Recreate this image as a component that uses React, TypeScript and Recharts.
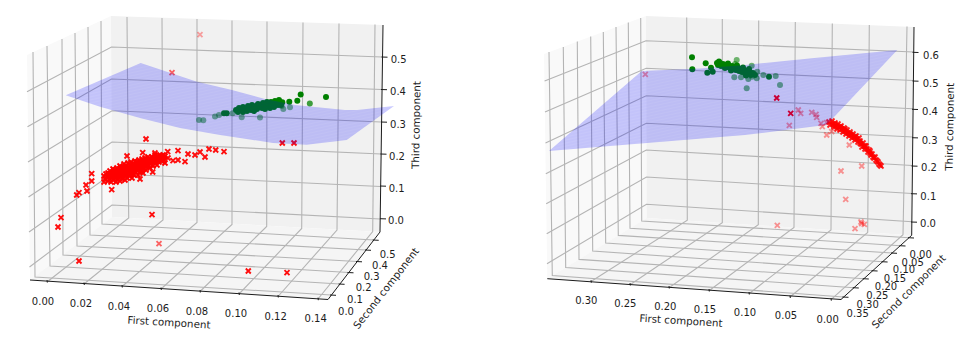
import React from "react"
import { ScatterChart, Scatter, XAxis, YAxis } from "recharts"

type P = [number, number]
type Lab = [string, number, number]

const leftPanes = {
  side: [[27, 55], [111, 16], [112, 217], [30, 280]] as P[],
  back: [[111, 16], [383, 25], [380, 232], [112, 217]] as P[],
  floor: [[30, 280], [112, 217], [380, 232], [328, 299.5]] as P[],
}
const rightPanes = {
  side: [[544, 54], [646, 16], [646.7, 218], [547.3, 278.7]] as P[],
  back: [[646, 16], [914, 27], [911.7, 235.3], [646.7, 218]] as P[],
  floor: [[547.3, 278.7], [646.7, 218], [911.7, 235.3], [841, 299.5]] as P[],
}

const leftFirstGrid: P[][] = [
  [[47, 282], [128.7, 218], [127, 17]],
  [[84, 284], [163, 220], [162, 18]],
  [[122, 286.5], [197, 222.5], [197, 19]],
  [[161, 289], [232, 224.5], [232, 20.5]],
  [[200, 291.5], [266.7, 226.5], [267, 21.5]],
  [[239, 294], [301.7, 228.5], [303, 22.5]],
  [[278, 296.5], [337, 230], [339, 23.5]],
  [[318, 299], [372.7, 231.5], [375, 24.5]],
]
const leftSecondGrid: P[][] = [
  [[331, 295], [35, 277], [33, 52]],
  [[339.6, 284], [50, 266], [47, 46]],
  [[348.5, 272.5], [63, 255], [62, 39]],
  [[357, 261.5], [77, 246], [75, 33]],
  [[366, 250], [90, 235], [88, 27]],
  [[373.7, 240], [102, 224], [101, 21]],
]
const leftThirdGrid: P[][] = [
  [[29.5, 267], [112, 205], [380, 219]],
  [[29, 232], [112, 173.7], [380.5, 186.5]],
  [[28.5, 197], [112, 142], [381, 154]],
  [[28, 162], [112, 110.7], [381, 122]],
  [[27.5, 126.7], [111.5, 79], [381.5, 89.5]],
  [[27, 91.7], [111.5, 47], [382, 57]],
]
const rightFirstGrid: P[][] = [
  [[591, 281.5], [687.3, 220.3], [686.7, 17.4]],
  [[630, 284.7], [722.3, 222.7], [722.3, 18.9]],
  [[669, 287.7], [758.3, 224.7], [758.7, 20.4]],
  [[709, 290.7], [794, 227.5], [795.3, 22]],
  [[749, 293.7], [831, 230], [832.3, 23.5]],
  [[790, 297], [867.7, 232.5], [869.3, 25]],
  [[831, 299.7], [903, 234.7], [907, 26.6]],
]
const rightSecondGrid: P[][] = [
  [[843.5, 297], [552.3, 275.6], [549, 52]],
  [[853.8, 287.7], [565.7, 267.5], [563.3, 47]],
  [[863.8, 278.7], [579, 259.4], [577.3, 41.6]],
  [[872.6, 270.7], [592.7, 251], [590.7, 36.6]],
  [[882.6, 261.7], [605.7, 243], [603.3, 32]],
  [[892, 253], [618.3, 235.4], [616, 27]],
  [[900.5, 245.7], [630, 228.3], [628.3, 22.6]],
  [[909, 237.7], [641.7, 221], [640.7, 18]],
]
const rightThirdGrid: P[][] = [
  [[547, 263.7], [646.5, 204.3], [912, 221.7]],
  [[546.7, 233.7], [646.5, 177], [912, 193.5]],
  [[546.2, 203.7], [646.3, 150], [912.3, 165.5]],
  [[545.8, 173.7], [646.3, 123.3], [912.8, 137]],
  [[545.5, 143], [646.2, 95.7], [913, 108.7]],
  [[545, 112], [646.2, 68.3], [913.3, 80.5]],
  [[544.6, 81], [646, 40.7], [913.7, 52]],
]

const leftAxes: P[][] = [
  [[30, 280], [328, 299.5], [380, 232]],
  [[380, 232], [383, 25]],
]
const rightAxes: P[][] = [
  [[547.3, 278.7], [841, 299.5], [911.7, 235.3]],
  [[911.7, 235.3], [914, 27]],
]

const leftFirstTickAt: P[] = [[47, 281], [84, 283.5], [122, 286], [161, 288.5], [200, 291], [239, 293.5], [278, 296], [318, 298.7]]
const leftSecondTickAt: P[] = [[331, 295], [339.6, 284], [348.5, 272.5], [357, 261.5], [366, 250], [373.7, 240]]
const leftThirdTickAt: P[] = [[381, 218.7], [381, 186], [381.5, 154], [382, 122], [382, 89.5], [382.5, 57]]
const rightFirstTickAt: P[] = [[591, 281.2], [630, 284], [669, 287], [709, 290], [749, 293], [790, 296.5], [831, 299.2]]
const rightSecondTickAt: P[] = [[843.5, 297], [853.8, 287.7], [863.8, 278.7], [872.6, 270.7], [882.6, 261.7], [892, 253], [900.5, 245.7], [909, 237.7]]
const rightThirdTickAt: P[] = [[912, 222], [912, 193.7], [912.5, 166], [913, 137.7], [913, 109.3], [913.5, 81], [913.5, 52.3]]

const tickLabels: Lab[] = [
  ["0.00", 43, 301], ["0.02", 81, 303.7], ["0.04", 119, 306], ["0.06", 158, 308.5],
  ["0.08", 197, 311], ["0.10", 236, 313.5], ["0.12", 275.7, 316], ["0.14", 315.7, 318],
  ["0.0", 346, 311], ["0.1", 355, 299], ["0.2", 363.7, 287], ["0.3", 371.7, 276], ["0.4", 380, 265], ["0.5", 387.7, 254.7],
  ["0.5", 398.7, 59.7], ["0.4", 398, 91.7], ["0.3", 398, 124], ["0.2", 397, 156], ["0.1", 396.7, 188.7], ["0.0", 396, 220.7],
  ["0.30", 586.3, 300.3], ["0.25", 625.3, 303.3], ["0.20", 665.3, 306.3], ["0.15", 705, 309.3],
  ["0.10", 745, 312.7], ["0.05", 786, 315.7], ["0.00", 827.7, 319],
  ["0.00", 920.7, 254.7], ["0.05", 912.7, 262], ["0.10", 904, 269.7], ["0.15", 895, 278],
  ["0.20", 886, 286.3], ["0.25", 877.3, 295.3], ["0.30", 867.7, 304.7], ["0.35", 857.7, 313.7],
  ["0.6", 931, 55], ["0.5", 930.7, 83.3], ["0.4", 930, 111.7], ["0.3", 929.7, 140], ["0.2", 929, 167.7], ["0.1", 928.3, 196], ["0.0", 928, 223.7],
]
const axisTitles: [string, number, number, number][] = [
  ["First component", 169, 322, 3.6],
  ["Second component", 385.7, 288, -52],
  ["Third component", 415.7, 125, -89],
  ["First component", 681, 320.3, 3.6],
  ["Second component", 908.3, 291.3, -45],
  ["Third component", 949.3, 126.7, -89],
]

const leftPlane: P[] = [
  [65.7, 95.3], [140.7, 63], [197, 81.7], [232, 90], [265, 99], [295, 105], [345, 110], [357, 110], [394, 106],
  [346.7, 140], [306.7, 144.7], [273, 143], [240, 138], [220, 135], [180, 128], [140, 118], [100, 106.7],
]
const rightPlane: P[] = [
  [549, 151], [641.7, 71], [700, 68.5], [745, 65], [811.7, 58.3], [897.3, 50],
  [835, 116], [826, 125], [780, 130.7], [745, 135],
]

const leftRedCluster: P[] = [
  [104, 176], [105, 179], [106, 174], [107, 177], [108, 181], [108, 173], [109, 176], [110, 179], [110, 171], [111, 174],
  [111, 182], [112, 177], [113, 169], [113, 172], [113, 180], [114, 175], [115, 178], [115, 170], [116, 173], [116, 182],
  [117, 168], [117, 176], [118, 179], [118, 171], [119, 174], [120, 166], [120, 169], [120, 177], [120, 181], [121, 172],
  [122, 175], [122, 179], [123, 167], [123, 170], [124, 173], [124, 164], [125, 176], [125, 180], [126, 169], [126, 166],
  [127, 172], [127, 178], [128, 163], [128, 174], [129, 168], [129, 171], [130, 176], [130, 165], [131, 162], [131, 173],
  [132, 169], [132, 178], [133, 166], [133, 171], [134, 164], [134, 175], [135, 161], [135, 168], [136, 172], [136, 165],
  [137, 170], [137, 162], [138, 167], [138, 175], [139, 160], [139, 164], [140, 169], [140, 172], [141, 162], [141, 166],
  [142, 159], [142, 171], [143, 164], [143, 168], [144, 161], [145, 166], [145, 158], [146, 163], [146, 170], [147, 160],
  [148, 165], [148, 157], [149, 162], [150, 159], [150, 168], [151, 164], [152, 157], [152, 161], [153, 166], [154, 158],
  [155, 162], [155, 155], [156, 160], [157, 156], [157, 165], [158, 158], [159, 162], [160, 155], [160, 159], [161, 157],
  [162, 161], [163, 155], [163, 158], [164, 160], [165, 156], [165, 163],
  [112, 174], [118, 175], [124, 170], [128, 171], [133, 168], [138, 164], [143, 161], [147, 163], [151, 161], [156, 158], [161, 160],
  [109, 174], [111, 177], [114, 172], [116, 176], [117, 179], [119, 172], [121, 175], [122, 169], [123, 178], [125, 168],
  [126, 174], [127, 169], [129, 175], [130, 168], [131, 171], [133, 174], [134, 168], [135, 165], [136, 169], [137, 166],
  [139, 168], [140, 163], [141, 169], [142, 164], [144, 165], [145, 162], [147, 166], [149, 159], [150, 163], [153, 160],
  [155, 158], [158, 161], [162, 157],
]
const leftRedOutliers: P[] = [
  [146, 139], [167.7, 151.7], [178, 150.7], [188, 154], [200, 152], [209, 149], [215.7, 150], [224, 151.7], [205, 157],
  [195, 155], [185, 161.7], [178, 160], [173, 160.7], [168, 158], [155, 153], [142.7, 152.7], [127, 156],
  [91.7, 173.7], [91.7, 181], [86, 185], [87, 191], [79, 192.7], [76.7, 195], [61, 217.7], [58, 227], [79, 261],
  [152, 214.7], [111.7, 189.7], [104, 182], [140, 179], [152.7, 172], [143, 173], [248.3, 271], [287, 272.7],
  [282.3, 143], [294, 143],
]
const leftRedFaded: P[] = [[172, 72.7], [159, 243.7]]
const leftRedFaint: P[] = [[200, 34.7]]

const leftGreenCluster: P[] = [
  [224, 113.3], [226.7, 113.3], [236, 110], [238, 112], [239, 108], [241, 110], [243, 112], [243, 107], [245, 109], [247, 111],
  [248, 106], [249, 108], [251, 110], [252, 105], [253, 108], [254, 111], [256, 106], [257, 109], [258, 104], [259, 107],
  [261, 105], [262, 108], [263, 103], [264, 106], [265, 109], [266, 104], [267, 102], [268, 106], [269, 104], [270, 108],
  [271, 102], [272, 105], [273, 103], [274, 107], [275, 101], [276, 104], [277, 102], [278, 105], [279, 100], [280, 103],
  [281, 105], [282.3, 102.3], [289.3, 101.7], [297.3, 100.7], [300.7, 94.5], [326, 97],
]
const leftGreenFaded: P[] = [
  [199, 120], [203.3, 120.3], [215, 116.5], [219, 115], [232.7, 113.3], [241.7, 117.3], [260, 117.5], [283.3, 109], [290, 107.2], [281.7, 106],
]
const leftGreenMid: P[] = [[309.8, 103.5]]

const rightGreenCluster: P[] = [
  [692, 57.3], [692.3, 69.3], [705.7, 63.3], [711, 67.7], [707.3, 72.7], [712.7, 71.7], [717, 63], [718, 65], [720, 63], [721, 66],
  [723, 64], [724, 66], [726, 65], [727, 67], [729, 66], [730, 68], [732, 66], [733, 69], [735, 67], [736, 70],
  [738, 68], [739, 71], [741, 69], [742, 72], [744, 70], [745, 73], [747, 71], [748, 74], [750, 72], [751, 75], [753, 73], [769, 76.7],
  [719, 61.5], [725, 68], [731, 70.5], [737, 65.5], [743, 67.5], [746, 75.5], [749, 69], [755, 75], [728, 63.5],
]
const rightGreenFaded: P[] = [
  [736.7, 60], [735, 64], [751.7, 65.7], [746.7, 88.3], [780, 85], [775.7, 76], [763.3, 75], [757.3, 71.7], [756.7, 78.3], [752, 76.7], [748.3, 79], [741, 77.3], [734.3, 77.3],
]

const rightRedBand: P[] = [
  [829, 122], [830, 125], [832, 121], [833, 124], [834, 127], [835, 123], [836, 126], [837, 129], [838, 124], [839, 127],
  [840, 130], [841, 126], [842, 129], [843, 132], [844, 128], [845, 131], [846, 134], [847, 130], [848, 133], [849, 136],
  [850, 132], [851, 135], [852, 138], [853, 134], [854, 137], [855, 140], [856, 136], [857, 139], [858, 142], [859, 138],
  [860, 141], [861, 144], [862, 147], [863, 143], [864, 146], [865, 149], [866, 146], [867, 149], [868, 152], [869, 150],
  [870, 153], [871, 155], [872, 154], [873, 157], [874, 158], [875, 157], [876, 160], [877, 161], [878, 162], [879, 164], [880, 165], [881, 166],
  [835, 125], [840, 127], [845, 129], [850, 134], [855, 137], [860, 143], [865, 146], [870, 151],
]
const rightRedSolid: P[] = [[776.7, 98], [790.7, 113.3]]
const rightRedFaded: P[] = [
  [789.3, 125.3], [798.3, 110], [800.7, 113.3], [811.7, 112.3], [816, 114.3], [816.7, 117.3], [821, 123.3], [822.3, 126.7],
  [826.7, 135], [826.7, 122.7], [831.7, 131.7], [849.3, 145], [861.7, 166], [841, 171], [845.7, 199.3], [777.3, 225.3],
  [861, 222], [864.3, 224.3], [855, 228.7], [861.7, 223.7], [645.3, 74.3],
]

const toRows = (pts: P[]) => pts.map(([x, y]) => ({ x, y }))
const noDot = () => <g />

const crossMark = (color: string, opacity: number) => ({ cx, cy }: any) => (
  <path
    d={`M${cx - 2.5} ${cy - 2.5}L${cx + 2.5} ${cy + 2.5}M${cx - 2.5} ${cy + 2.5}L${cx + 2.5} ${cy - 2.5}`}
    stroke={color}
    strokeOpacity={opacity}
    strokeWidth={1.9}
    fill="none"
  />
)
const dotMark = (color: string, opacity: number) => ({ cx, cy }: any) => (
  <circle cx={cx} cy={cy} r={3} fill={color} fillOpacity={opacity} />
)
// draws the outline relative to its first vertex, the axes run at one unit per pixel
const polygonMark = (verts: P[], fill: string) => ({ cx, cy }: any) => (
  <polygon
    points={verts.map(([x, y]) => `${cx + x - verts[0][0]},${cy + y - verts[0][1]}`).join(" ")}
    fill={fill}
  />
)

const polygon = (verts: P[], fill: string, key: string) => (
  <Scatter key={key} data={toRows(verts.slice(0, 1))} shape={polygonMark(verts, fill)} isAnimationActive={false} />
)
const polyline = (pts: P[], stroke: string, width: number, key: string) => (
  <Scatter
    key={key}
    data={toRows(pts)}
    line={{ stroke, strokeWidth: width }}
    shape={noDot}
    isAnimationActive={false}
  />
)
const marks = (pts: P[], shape: any, key: string) => (
  <Scatter key={key} data={toRows(pts)} shape={shape} isAnimationActive={false} />
)

const GRID = "#b4b4b4"
const INK = "#1c1c1c"
const grids = [leftFirstGrid, leftSecondGrid, leftThirdGrid, rightFirstGrid, rightSecondGrid, rightThirdGrid].flat()

const labelShape = (fontSize: number) => ({ cx, cy, payload }: any) => (
  <text
    x={cx}
    y={cy}
    fontFamily="DejaVu Sans"
    fontSize={fontSize}
    fill={INK}
    textAnchor="middle"
    dominantBaseline="central"
    transform={payload.angle ? `rotate(${payload.angle} ${cx} ${cy})` : undefined}
  >
    {payload.text}
  </text>
)

export default function App() {
  return (
    <div style={{ position: "absolute", left: 0, top: 0 }}>
      <ScatterChart width={970} height={345} margin={{ top: 0, right: 0, bottom: 0, left: 0 }}>
        <defs>
          <pattern id="mesh" width="5" height="3" patternUnits="userSpaceOnUse" patternTransform="rotate(-12)">
            <rect width="5" height="3" fill="#0000ff" fillOpacity={0.2} />
            <line x1="0" y1="1" x2="5" y2="1" stroke="#0000ff" strokeOpacity={0.04} strokeWidth={1} />
          </pattern>
        </defs>
        <XAxis type="number" dataKey="x" domain={[0, 970]} hide />
        <YAxis type="number" dataKey="y" domain={[0, 345]} reversed hide />

        {polygon(leftPanes.side, "#f9f9f9", "ls")}
        {polygon(leftPanes.back, "#f1f1f1", "lb")}
        {polygon(leftPanes.floor, "#f5f5f5", "lf")}
        {polygon(rightPanes.side, "#f9f9f9", "rs")}
        {polygon(rightPanes.back, "#f1f1f1", "rb")}
        {polygon(rightPanes.floor, "#f5f5f5", "rf")}

        {grids.map((g, i) => polyline(g, GRID, 1.1, `grid-${i}`))}
        {[...leftAxes, ...rightAxes].map((a, i) => polyline(a, INK, 1, `axis-${i}`))}
        {[...leftFirstTickAt, ...rightFirstTickAt].map(([x, y], i) =>
          polyline([[x, y - 1], [x + 0.3, y + 1.5]], INK, 1, `xt-${i}`))}
        {[...leftSecondTickAt, ...rightSecondTickAt].map(([x, y], i) =>
          polyline([[x - 1, y], [x + 5, y + 0.3]], INK, 1, `yt-${i}`))}
        {[...leftThirdTickAt, ...rightThirdTickAt].map(([x, y], i) =>
          polyline([[x - 1, y], [x + 5, y + 0.2]], INK, 1, `zt-${i}`))}

        {marks(leftGreenFaded, dotMark("#008000", 0.5), "lgf")}
        {marks(leftGreenMid, dotMark("#008000", 0.75), "lgm")}
        {marks(leftGreenCluster, dotMark("#008000", 1), "lgc")}
        {marks(rightGreenFaded, dotMark("#008000", 0.55), "rgf")}
        {marks(rightGreenCluster, dotMark("#008000", 1), "rgc")}
        {marks(leftRedCluster, crossMark("#ff0000", 1), "lrc")}
        {marks(leftRedOutliers, crossMark("#ff0000", 0.95), "lro")}
        {marks(leftRedFaded, crossMark("#ff0000", 0.6), "lrf")}
        {marks(leftRedFaint, crossMark("#ff0000", 0.35), "lrt")}
        {marks(rightRedFaded, crossMark("#ff0000", 0.4), "rrf")}
        {marks(rightRedBand, crossMark("#ff0000", 0.85), "rrb")}
        {marks(rightRedSolid, crossMark("#ff0000", 1), "rrs")}

        {polygon(leftPlane, "url(#mesh)", "lp")}
        {polygon(rightPlane, "url(#mesh)", "rp")}

        <Scatter
          data={tickLabels.map(([text, x, y]) => ({ x, y, text }))}
          shape={labelShape(10)}
          isAnimationActive={false}
        />
        <Scatter
          data={axisTitles.map(([text, x, y, angle]) => ({ x, y, text, angle }))}
          shape={labelShape(10.3)}
          isAnimationActive={false}
        />
      </ScatterChart>
    </div>
  )
}
